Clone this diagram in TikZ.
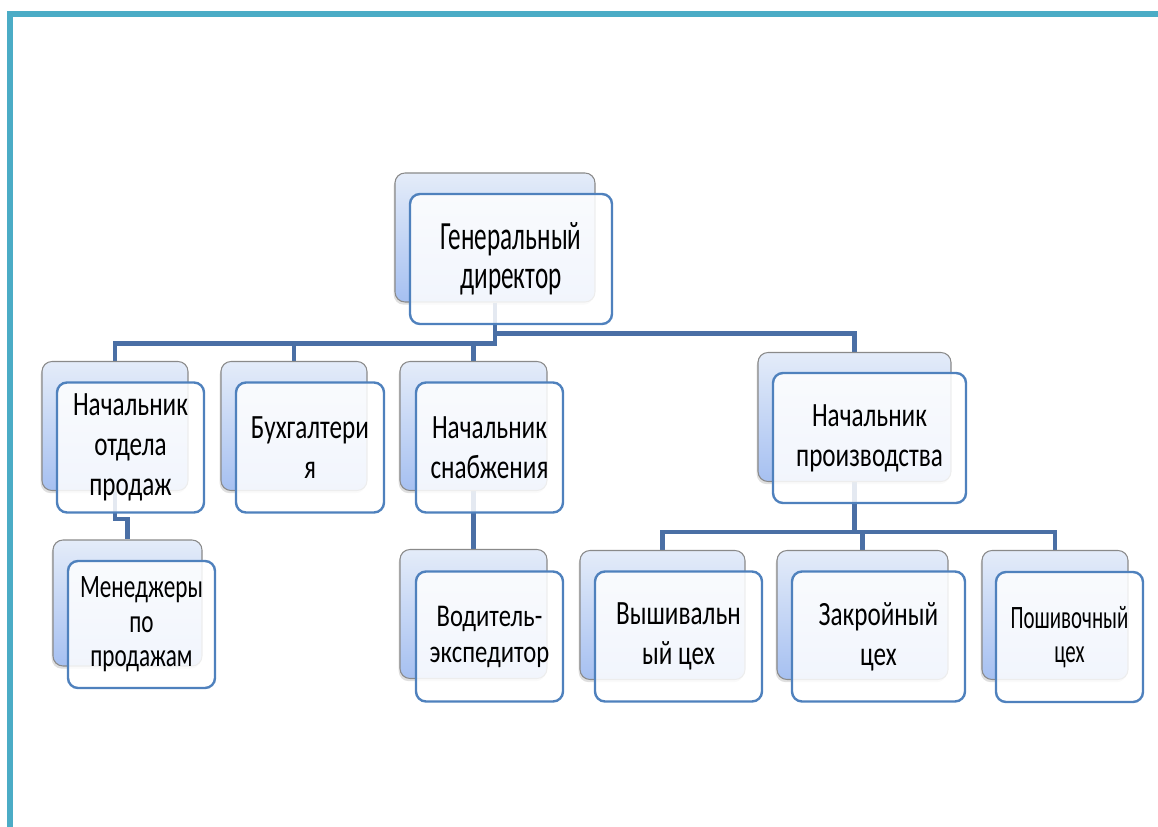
\documentclass[tikz,border=0pt]{standalone}
\usepackage{fontspec}
\setmainfont{Carlito}
\newfontfamily\boxfont{Carlito}[FakeStretch=0.74]
\newfontfamily\headfont{Carlito}[FakeStretch=0.63]
\newfontfamily\slimfont{Carlito}[FakeStretch=0.64]
\newfontfamily\mgfont{Carlito}[FakeStretch=0.71]
\newfontfamily\drvfont{Carlito}[FakeStretch=0.78]
\usetikzlibrary{backgrounds,shadows}

\definecolor{framecol}{HTML}{4BACC6}
\definecolor{linkcol}{HTML}{4A6FA5}
\definecolor{backtop}{HTML}{E4ECF9}
\definecolor{backbot}{HTML}{A6C0F1}
\definecolor{backedge}{HTML}{8A8A8A}
\definecolor{frontedge}{HTML}{4F81BD}

\tikzset{
  backbox/.style={draw=backedge, line width=0.8pt, rounded corners=7.5pt,
    top color=backtop, bottom color=backbot, minimum height=96.75pt,
    drop shadow={shadow xshift=-1pt, shadow yshift=-2pt, opacity=0.25}},
  frontbox/.style={draw=frontedge, line width=1.8pt, rounded corners=7.5pt,
    fill=white, fill opacity=0.85, text opacity=1, inner sep=1pt,
    minimum height=97.5pt, align=center,
    font=\boxfont\fontsize{25.5}{30}\selectfont},
  link/.style={draw=linkcol, line width=3.4pt}
}

\begin{document}
\begin{tikzpicture}[x=0.75pt, y=-0.75pt]
  \useasboundingbox (0,0) rectangle (1158,827);
  \draw[framecol, line width=4.5pt] (10,827) -- (10,14) -- (1158,14);

  % back boxes
  \node[backbox, minimum width=150pt] (gdb) at (495,237.5) {};
  \node[backbox, minimum width=109.5pt] (osb) at (115,426) {};
  \node[backbox, minimum width=109.5pt] (bub) at (294,426) {};
  \node[backbox, minimum width=110.25pt] (snb) at (473.5,426) {};
  \node[backbox, minimum width=144.75pt] (prb) at (854.5,417) {};
  \node[backbox, minimum width=111.75pt, minimum height=94.5pt] (mgb) at (127.5,603) {};
  \node[backbox, minimum width=110.25pt] (vdb) at (473.5,614) {};
  \node[backbox, minimum width=123.75pt] (vyb) at (662.5,615) {};
  \node[backbox, minimum width=128.25pt] (zab) at (862.5,615) {};
  \node[backbox, minimum width=109.5pt] (pob) at (1055,615) {};

  % front boxes
  \node[frontbox, minimum width=151.5pt, font=\headfont\fontsize{30}{29}\selectfont] (gd) at (511,259) {Генеральный\\директор};
  \node[frontbox, minimum width=110.25pt] (os) at (130.5,447.5) {Начальник\\отдела\\продаж};
  \node[frontbox, minimum width=111pt] (bu) at (310,447.5) {Бухгалтери\\я};
  \node[frontbox, minimum width=110.25pt] (sn) at (489.5,447.5) {Начальник\\снабжения};
  \node[frontbox, minimum width=144.75pt] (pr) at (869.5,438) {Начальник\\производства};
  \node[frontbox, minimum width=110.25pt, minimum height=95.25pt, font=\mgfont\fontsize{24.5}{26}\selectfont] (mg) at (141.5,624.5) {Менеджеры\\по\\продажам};
  \node[frontbox, minimum width=110.25pt, font=\drvfont\fontsize{23.7}{27}\selectfont] (vd) at (489.5,636.5) {Водитель-\\экспедитор};
  \node[frontbox, minimum width=125.25pt] (vy) at (678.5,636.5) {Вышивальн\\ый цех};
  \node[frontbox, minimum width=129.75pt] (za) at (878.5,636.5) {Закройный\\цех};
  \node[frontbox, minimum width=110.25pt, font=\slimfont\fontsize{24.5}{25}\selectfont] (po) at (1069.5,637) {Пошивочный\\цех};

  % connectors
  \begin{scope}[on background layer]
    \draw[link] (gdb.south) -- ++(0,41) -| (osb.north);
    \draw[link] (gdb.south) ++(0,41) -| (bub.north);
    \draw[link] (gdb.south) ++(0,41) -| (snb.north);
    \draw[link] (gdb.south) -- ++(0,31) -| (prb.north);
    \draw[link] (osb.south) -- ++(0,28) -| (mgb.north);
    \draw[link] (snb.south) -- (vdb.north);
    \draw[link] (prb.south) -- ++(0,50) -| (vyb.north);
    \draw[link] (prb.south) ++(0,50) -| (zab.north);
    \draw[link] (prb.south) ++(0,50) -| (pob.north);
  \end{scope}
\end{tikzpicture}
\end{document}
